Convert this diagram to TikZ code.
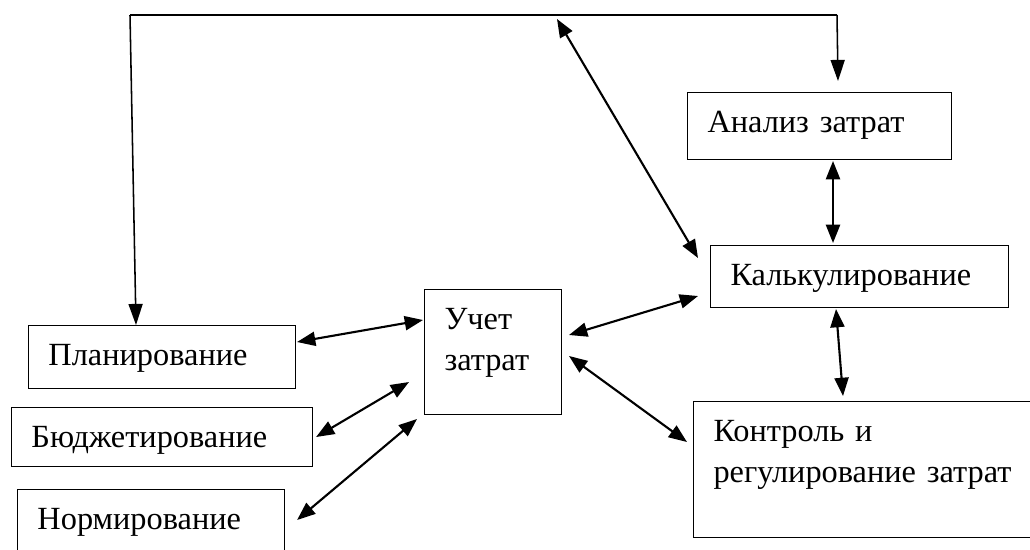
\documentclass[tikz,border=0pt]{standalone}
\usepackage{fontspec}
\setmainfont{Liberation Serif}
\usetikzlibrary{arrows.meta,calc}

\begin{document}
\begin{tikzpicture}[x=0.025cm, y=-0.025cm]
      % picture measured in pixels of the original scheme
      \useasboundingbox (0,0) rectangle (1030,549);
      \tikzstyle{format} = [rectangle, draw, line width=0.7pt, anchor=north west, align=left,
                            inner xsep=0.5cm, inner ysep=0pt, text height=1cm,
                            font=\fontsize{23}{29}\selectfont]
      \tikzstyle{line} = [draw, line width=1.5pt, {Triangle[length=13pt,width=10pt]}-{Triangle[length=13pt,width=10pt]}]
      \tikzstyle{feed} = [draw, line width=1.1pt, -{Triangle[length=15pt,width=10pt]}]
        \node [format, text width=5.675cm, text depth=0.575cm] (plan) at (28,325) {Планирование};
        \node [format, text width=6.525cm, text depth=0.475cm] (budget) at (11,407) {Бюджетирование};
        \node [format, text width=5.675cm, text depth=0.8cm] (norm) at (17,489) {Нормирование};
        \node [format, text width=2.425cm, text depth=2.125cm] (uchet) at (424,289) {Учет\\затрат};
        \node [format, text width=5.6cm, text depth=0.675cm] (analiz) at (687,92) {Анализ затрат};
        \node [format, text width=6.45cm, text depth=0.55cm] (kalk) at (710,245) {Калькулирование};
        \node [format, text width=7.55cm, text depth=2.4cm] (kontrol) at (693,401) {Контроль и\\регулирование затрат};
        \coordinate (topL) at (130,15);
        \coordinate (topR) at (837,15);
        \coordinate (topM) at (557,19);
        \draw [line width=1pt] (topL) -- (topR);
        \path [feed] (topL) -- ($(plan.north west)+(108,0)$);
        \path [feed] (topR) -- ($(analiz.north west)+(151,-11)$);
        \path [line] (topM) -- ($(kalk.north west)+(-12,13)$);
        \path [line] ($(plan.north east)+(1,17)$) -- ($(uchet.north west)+(-1,31)$);
        \path [line] ($(budget.north east)+(3,30)$) -- ($(uchet.north west)+(-15,93)$);
        \path [line] ($(norm.north east)+(12,31)$) -- ($(uchet.south west)+(-7,4)$);
        \path [line] ($(uchet.north east)+(7,46)$) -- ($(kalk.south west)+(-12,-12)$);
        \path [line] ($(uchet.north east)+(7,67)$) -- ($(kontrol.north west)+(-6,41)$);
        \path [line] ($(analiz.south west)+(146,1)$) -- ($(kalk.north west)+(123,-2)$);
        \path [line] ($(kalk.south west)+(126,1)$) -- ($(kontrol.north west)+(150,-5)$);
\end{tikzpicture}
\end{document}
